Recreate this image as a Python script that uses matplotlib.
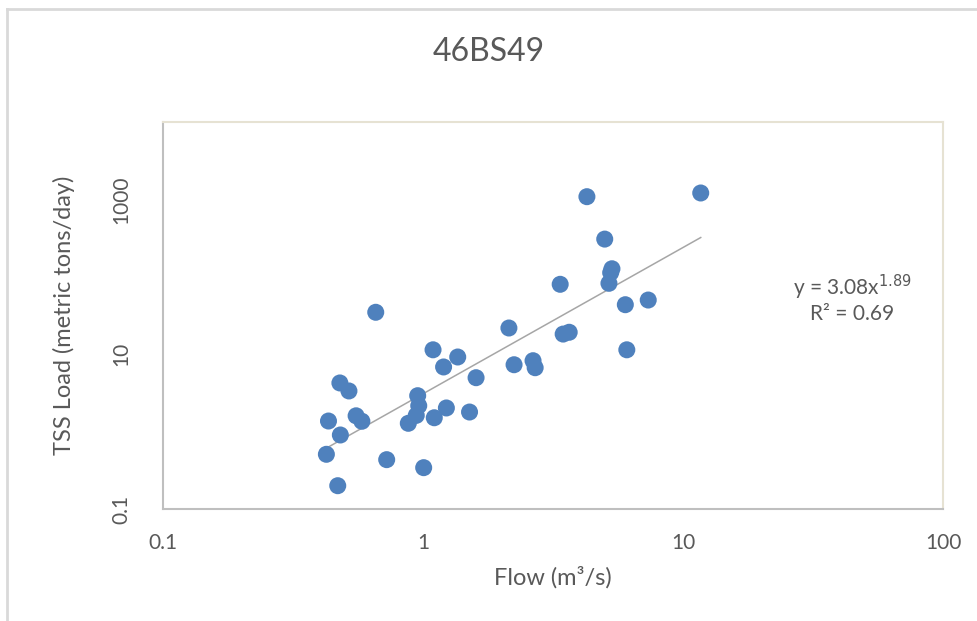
import matplotlib
matplotlib.use("Agg")
import matplotlib.pyplot as plt
from matplotlib.lines import Line2D
import numpy as np

plt.rcParams['font.family'] = ['Lato', 'DejaVu Sans']

# flow (m3/s) and TSS load (metric tons/day)
flow = [0.658, 2.14, 1.093, 1.36, 1.20, 2.24, 2.65, 2.70, 1.60, 0.479,
        0.519, 0.954, 0.963, 0.942, 0.878, 1.23, 1.105, 1.51, 0.553, 0.582,
        0.433, 0.481, 0.425, 0.725, 1.006, 0.470, 4.27, 11.7, 5.00, 5.33,
        5.27, 5.19, 3.37, 6.00, 7.35, 3.46, 3.65, 6.08]
load = [34.8, 21.8, 11.4, 9.2, 6.84, 7.31, 8.24, 6.69, 4.97, 4.25,
        3.35, 2.91, 2.16, 1.62, 1.28, 2.02, 1.51, 1.79, 1.60, 1.36,
        1.37, 0.904, 0.509, 0.434, 0.342, 0.200, 1084, 1210, 307, 127,
        113, 82.4, 80, 43.6, 50.1, 18.2, 19.2, 11.4]

coef_a = 3.08
coef_b = 1.89
r2 = 0.69

xticks = [0.1, 1, 10, 100]
xticklabels = ["0.1", "1", "10", "100"]
yticks = [0.1, 10, 1000]
yticklabels = ["0.1", "10", "1000"]

txt = "#595959"

fig = plt.figure(figsize=(9.77, 6.21), dpi=100)
ax = fig.add_axes([163/977, 1-509/621, (943-163)/977, (509-122)/621])

ax.scatter(flow, load, s=150, color="#4f81bd", edgecolors="none", zorder=3)

# power trendline y = a x^b
xf = np.linspace(min(flow), max(flow), 200)
ax.plot(xf, coef_a * xf**coef_b, color="#a6a6a6", lw=1.1, zorder=2)

ax.set_xscale("log")
ax.set_yscale("log")
ax.set_xlim(0.1, 100)
ax.set_ylim(0.1, 10000)
ax.set_xticks(xticks)
ax.set_xticklabels(xticklabels)
ax.set_yticks(yticks)
ax.set_yticklabels(yticklabels, rotation=90, va="center")
ax.minorticks_off()
ax.tick_params(length=0, labelsize=15, labelcolor=txt)
ax.tick_params(axis="x", pad=17)
ax.tick_params(axis="y", pad=23)

for s in ["left", "bottom"]:
    ax.spines[s].set_color("#bfbfbf")
    ax.spines[s].set_linewidth(1.5)
for s in ["top", "right"]:
    ax.spines[s].set_color("#e6e2d3")
    ax.spines[s].set_linewidth(1.5)

ax.set_xlabel("Flow (m³/s)", fontsize=17, color=txt, labelpad=10)
ax.set_ylabel("TSS Load (metric tons/day)", fontsize=17, color=txt, labelpad=26)

fig.text(0.5, 1-52/621, "46BS49", ha="center", va="center", fontsize=23, color=txt)

fig.text(852/977, 1-287/621, "y = %.2fx$^{%.2f}$" % (coef_a, coef_b),
         ha="center", va="center", fontsize=15, color=txt)
fig.text(852/977, 1-314/621, "R² = %.2f" % r2,
         ha="center", va="center", fontsize=15, color=txt)

# outer chart frame (top and left edges visible)
fig.add_artist(Line2D([7/977, 1], [1-9/621, 1-9/621], color="#d9d9d9", lw=2))
fig.add_artist(Line2D([7/977, 7/977], [0, 1-9/621], color="#d9d9d9", lw=2))

fig.savefig("out.png", dpi=100)
